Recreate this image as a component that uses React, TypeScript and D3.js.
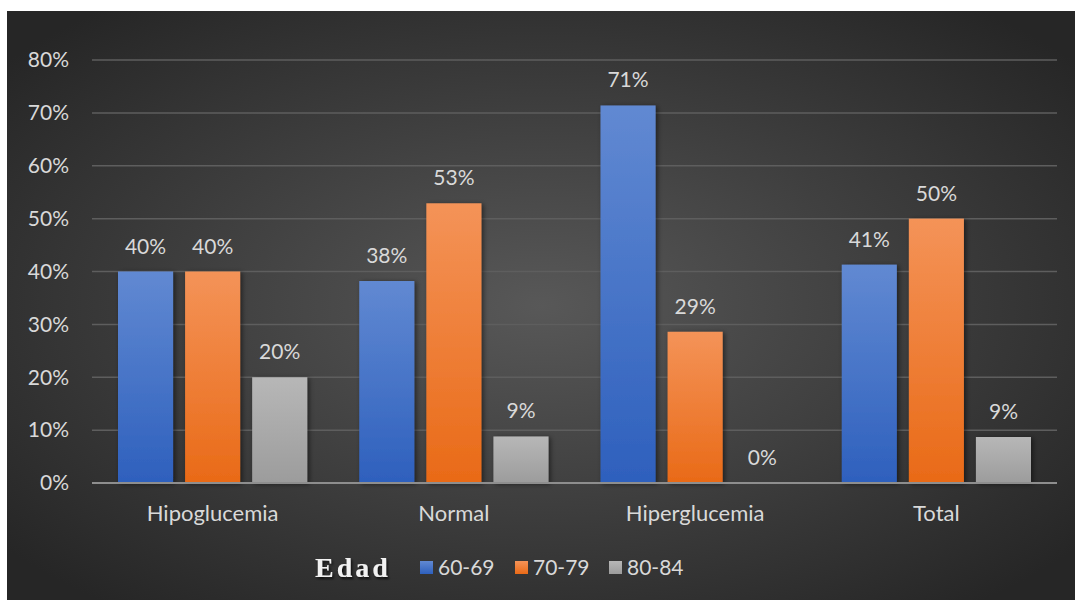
import React from "react";
import * as d3 from "d3";

const categories = ["Hipoglucemia", "Normal", "Hiperglucemia", "Total"];
const seriesNames = ["60-69", "70-79", "80-84"];
const values6069 = [40.0, 38.2, 71.4, 41.3];
const values7079 = [40.0, 52.9, 28.6, 50.0];
const values8084 = [20.0, 8.8, 0.0, 8.7];
const yTicks = [0, 10, 20, 30, 40, 50, 60, 70, 80];
const legendTitle = "Edad";

const seriesValues = [values6069, values7079, values8084];
const gradients = [
  ["#6189d2", "#2e60bd"],
  ["#f49358", "#e96a17"],
  ["#b7b7b7", "#9c9c9c"],
];

const W = 1075;
const H = 600;
const plot = { left: 92, right: 1057, top: 60, bottom: 483 };
const FONT = "Lato, 'Open Sans', sans-serif";

export default function App() {
  const x0 = d3.scaleBand<string>().domain(categories).range([plot.left, plot.right]).padding(0);
  const groupPad = 26;
  const x1 = d3
    .scaleBand<string>()
    .domain(seriesNames)
    .range([groupPad, x0.bandwidth() - groupPad])
    .paddingInner(12 / 67)
    .paddingOuter(0);
  const y = d3.scaleLinear().domain([0, 80]).range([plot.bottom, plot.top]);

  return (
    <svg
      width={W}
      height={H}
      style={{ position: "absolute", left: 0, top: 0, display: "block" }}
    >
      <defs>
        <radialGradient id="bg" cx="50%" cy="50%" r="65%">
          <stop offset="0%" stopColor="#585858" />
          <stop offset="100%" stopColor="#262626" />
        </radialGradient>
        {gradients.map((g, i) => (
          <linearGradient key={i} id={`g${i}`} x1="0" y1="0" x2="0" y2="1">
            <stop offset="0%" stopColor={g[0]} />
            <stop offset="100%" stopColor={g[1]} />
          </linearGradient>
        ))}
        <filter id="shadow" x="-20%" y="-20%" width="150%" height="150%">
          <feDropShadow dx="2" dy="1" stdDeviation="2.5" floodColor="#000" floodOpacity="0.5" />
        </filter>
        <filter id="tshadow" x="-20%" y="-40%" width="150%" height="200%">
          <feDropShadow dx="1.5" dy="2" stdDeviation="1.2" floodColor="#000" floodOpacity="0.7" />
        </filter>
      </defs>
      <rect x={0} y={0} width={W} height={H} fill="#ffffff" />
      <rect x={7} y={11} width={W - 7} height={H - 11} fill="url(#bg)" />

      {/* gridlines */}
      {yTicks.map((t) =>
        t === 0 ? null : (
          <line
            key={t}
            x1={plot.left}
            x2={plot.right}
            y1={y(t)}
            y2={y(t)}
            stroke="#5e5e5e"
            strokeWidth={1.5}
          />
        )
      )}

      {/* y tick labels */}
      {yTicks.map((t) => (
        <text
          key={t}
          x={69}
          y={y(t)}
          dy="0.35em"
          textAnchor="end"
          fontFamily={FONT}
          fontSize={21}
          fill="#d9d9d9"
        >
          {t}%
        </text>
      ))}

      {/* bars */}
      {categories.map((c, ci) => (
        <g key={c} transform={`translate(${x0(c)},0)`}>
          {seriesNames.map((s, si) => {
            const v = seriesValues[si][ci];
            const bx = x1(s) as number;
            const by = y(v);
            return (
              <g key={s}>
                {v > 0 && (
                  <rect
                    x={bx}
                    y={by}
                    width={x1.bandwidth()}
                    height={y(0) - by}
                    fill={`url(#g${si})`}
                    filter="url(#shadow)"
                  />
                )}
                <text
                  x={bx + x1.bandwidth() / 2}
                  y={by - 18}
                  textAnchor="middle"
                  fontFamily={FONT}
                  fontSize={21}
                  fill="#d9d9d9"
                >
                  {Math.round(v)}%
                </text>
              </g>
            );
          })}
          <text
            x={x0.bandwidth() / 2}
            y={521}
            textAnchor="middle"
            fontFamily={FONT}
            fontSize={22}
            fill="#d9d9d9"
          >
            {c}
          </text>
        </g>
      ))}

      {/* axis line */}
      <line
        x1={plot.left}
        x2={plot.right}
        y1={y(0)}
        y2={y(0)}
        stroke="#8e8e8e"
        strokeWidth={2}
      />

      {/* legend */}
      <text
        x={315}
        y={577}
        fontFamily="'Liberation Serif', 'DejaVu Serif', serif"
        fontWeight="bold"
        fontSize={28}
        letterSpacing={3}
        fill="#f2f2f2"
        filter="url(#tshadow)"
      >
        {legendTitle}
      </text>
      {seriesNames.map((s, si) => {
        const lx = [420, 515, 609][si];
        return (
          <g key={s}>
            <rect x={lx} y={561} width={13} height={13} fill={`url(#g${si})`} />
            <text
              x={lx + 18}
              y={575}
              fontFamily={FONT}
              fontSize={21}
              fill="#d9d9d9"
            >
              {s}
            </text>
          </g>
        );
      })}
    </svg>
  );
}
